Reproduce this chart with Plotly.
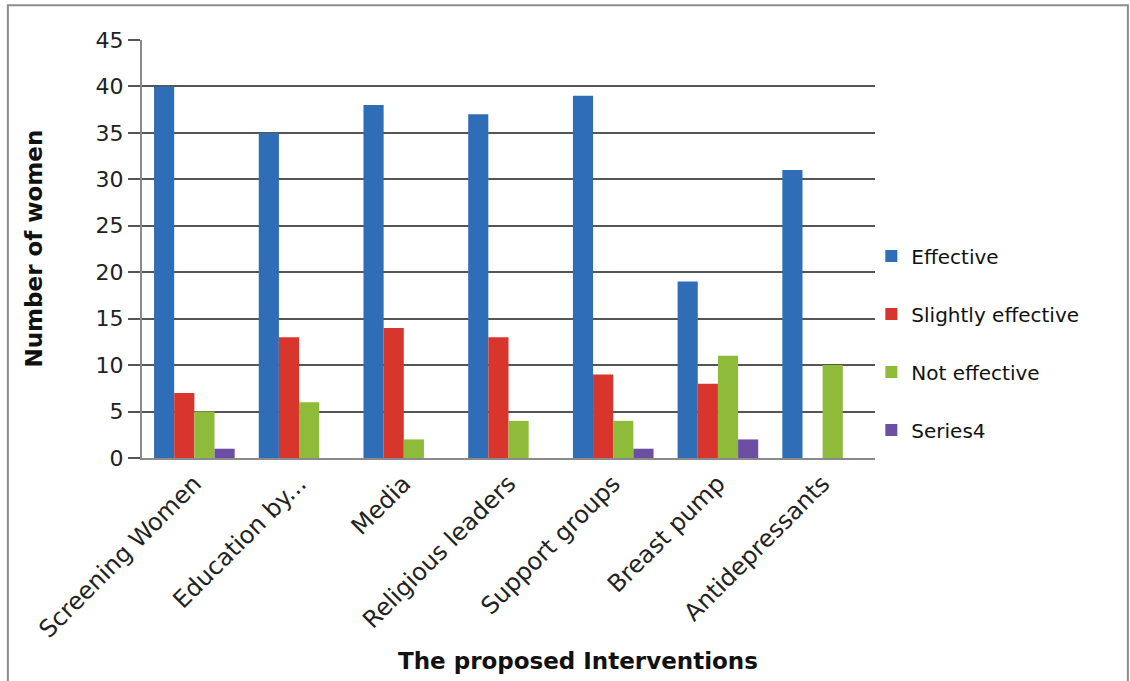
import plotly.graph_objects as go

categories = ["Screening Women", "Education by...", "Media", "Religious leaders",
              "Support groups", "Breast pump", "Antidepressants"]
effective = [40, 35, 38, 37, 39, 19, 31]
slightly_effective = [7, 13, 14, 13, 9, 8, 0]
not_effective = [5, 6, 2, 4, 4, 11, 10]
series4 = [1, 0, 0, 0, 1, 2, 0]

series = [
    ("Effective", effective, "#2f6db6"),
    ("Slightly effective", slightly_effective, "#d8352d"),
    ("Not effective", not_effective, "#8fbb3a"),
    ("Series4", series4, "#6c4fa3"),
]

FONT = "DejaVu Sans"

fig = go.Figure()
for name, vals, col in series:
    fig.add_trace(go.Bar(
        x=categories, y=vals, name=name, legendgroup=name,
        marker=dict(color=col, line=dict(width=0)),
    ))

# outer chart frame
fig.add_shape(type="rect", xref="paper", yref="paper",
              x0=-0.183, x1=1.345, y0=-0.54, y1=1.083,
              line=dict(color="#8c8c8c", width=2), layer="below")

# axis titles
fig.add_annotation(text="<b>The proposed Interventions</b>", xref="paper", yref="paper",
                   x=0.595, y=-0.485, xanchor="center", yanchor="middle",
                   showarrow=False, font=dict(size=23, family=FONT, color="#111111"))
fig.add_annotation(text="<b>Number of women</b>", xref="paper", yref="paper",
                   x=-0.148, y=0.5, xanchor="center", yanchor="middle", textangle=-90,
                   showarrow=False, font=dict(size=23, family=FONT, color="#111111"))

fig.update_layout(
    width=1130, height=681,
    margin=dict(l=142, r=255, t=40, b=223),
    paper_bgcolor="white", plot_bgcolor="white",
    barmode="group", bargap=0.23, bargroupgap=0.0,
    font=dict(family=FONT, color="#222222"),
    showlegend=True,
    legend=dict(x=0.995, y=0.275, xanchor="left", yanchor="middle",
                font=dict(size=20, family=FONT, color="#111111"),
                itemsizing="constant", tracegroupgap=29, itemwidth=30,
                bgcolor="rgba(0,0,0,0)"),
    xaxis=dict(
        tickangle=-45, tickfont=dict(size=24, family=FONT, color="#222222"),
        showline=True, linecolor="#8a8a8a", linewidth=2,
        ticks="", showgrid=False,
    ),
    yaxis=dict(
        range=[0, 45], dtick=5, tick0=0,
        tickfont=dict(size=22, family=FONT, color="#222222"),
        showgrid=True, gridcolor="#555555", gridwidth=1.5,
        showline=True, linecolor="#8a8a8a", linewidth=2,
        ticks="outside", ticklen=12, tickcolor="#555555", tickwidth=1.5,
        zeroline=False,
    ),
)

fig.write_html("out.html")
